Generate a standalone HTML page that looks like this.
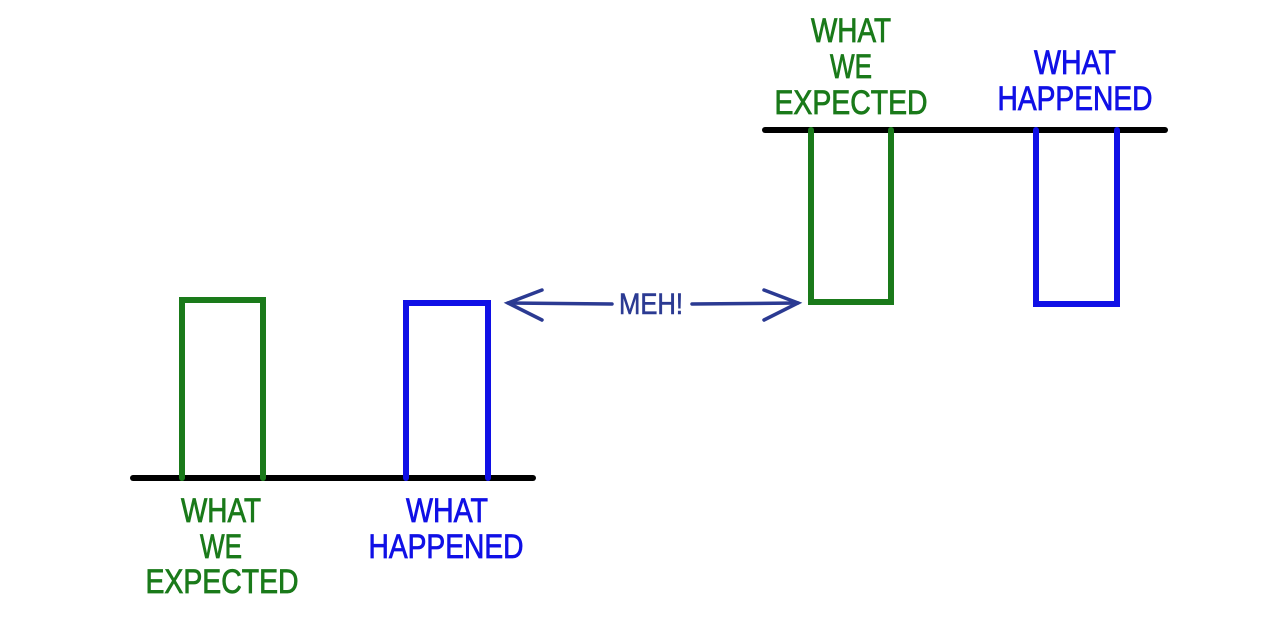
<!DOCTYPE html>
<html><head><style>body{margin:0;background:#fff}svg{display:block}</style></head>
<body>
<svg width="1280" height="625" viewBox="0 0 1280 625" xmlns="http://www.w3.org/2000/svg" font-family="Liberation Sans, sans-serif" font-size="34" text-anchor="middle">
<g fill="none" stroke-linecap="round">
<path d="M133 478 L533 478" stroke="#000" stroke-width="6"/>
<path d="M765 130 L1165 130" stroke="#000" stroke-width="6"/>
<path d="M182 478 L182 300 L263 300 L263 478" stroke="#1a7a1a" stroke-width="6"/>
<path d="M406 478 L406 303 L488 303 L488 478" stroke="#1010e6" stroke-width="6"/>
<path d="M811 130 L811 302 L891 302 L891 130" stroke="#1a7a1a" stroke-width="6"/>
<path d="M1036 130 L1036 304 L1117 304 L1117 130" stroke="#1010e6" stroke-width="6"/>
<g stroke="#2b3a92" stroke-width="3.5">
<path d="M508 303 L612 304"/><path d="M692 304 L798 303"/>
<path d="M542 290 L508 303 L542 320"/><path d="M764 290 L798 303 L764 320"/>
</g>
</g>
<g fill="#1a7a1a" stroke="#1a7a1a" stroke-width="0.8">
<text x="221" y="522" textLength="80" lengthAdjust="spacingAndGlyphs">WHAT</text>
<text x="221" y="558" textLength="42" lengthAdjust="spacingAndGlyphs">WE</text>
<text x="222" y="593" textLength="153" lengthAdjust="spacingAndGlyphs">EXPECTED</text>
<text x="851" y="42" textLength="80" lengthAdjust="spacingAndGlyphs">WHAT</text>
<text x="851" y="78" textLength="42" lengthAdjust="spacingAndGlyphs">WE</text>
<text x="851" y="114" textLength="153" lengthAdjust="spacingAndGlyphs">EXPECTED</text>
</g>
<g fill="#1010e6" stroke="#1010e6" stroke-width="0.8">
<text x="447" y="522" textLength="82" lengthAdjust="spacingAndGlyphs">WHAT</text>
<text x="446" y="558" textLength="155" lengthAdjust="spacingAndGlyphs">HAPPENED</text>
<text x="1075" y="74" textLength="82" lengthAdjust="spacingAndGlyphs">WHAT</text>
<text x="1075" y="110" textLength="155" lengthAdjust="spacingAndGlyphs">HAPPENED</text>
</g>
<text x="651" y="314" font-size="30" fill="#2b3a92" stroke="#2b3a92" stroke-width="0.6" textLength="64" lengthAdjust="spacingAndGlyphs">MEH!</text>
</svg>
</body></html>
